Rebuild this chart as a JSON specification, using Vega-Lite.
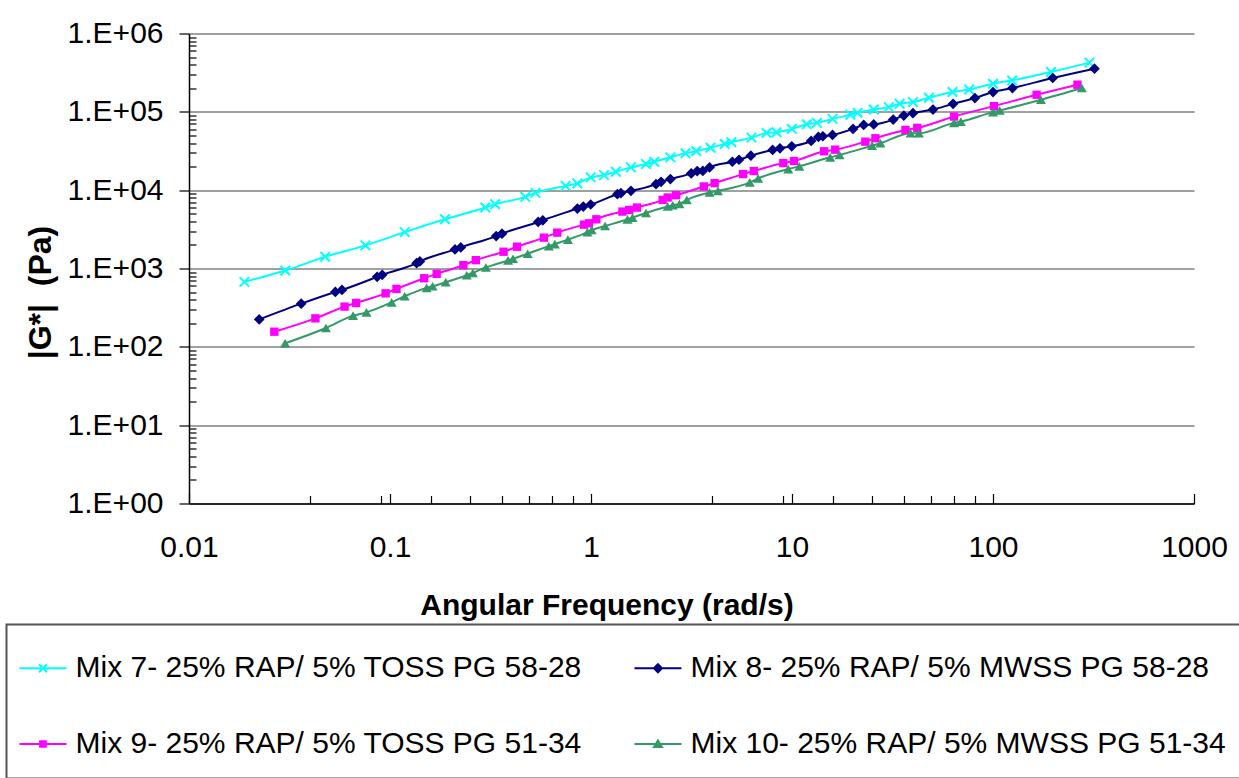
{
  "$schema": "https://vega.github.io/schema/vega-lite/v6.json",
  "autosize": {"type": "none"},
  "width": 1005,
  "height": 470,
  "padding": {"left": 189, "top": 33.5, "right": 45, "bottom": 274.5},
  "background": "white",
  "config": {
    "view": {"stroke": null},
    "font": "Liberation Sans",
    "legend": {"strokeWidth": 2}
  },
  "data": {"values": [
    {"series":"Mix 7- 25% RAP/ 5% TOSS PG 58-28","x":0.01885,"y":675},
    {"series":"Mix 7- 25% RAP/ 5% TOSS PG 58-28","x":0.0301,"y":943},
    {"series":"Mix 7- 25% RAP/ 5% TOSS PG 58-28","x":0.0476,"y":1413},
    {"series":"Mix 7- 25% RAP/ 5% TOSS PG 58-28","x":0.0755,"y":1972},
    {"series":"Mix 7- 25% RAP/ 5% TOSS PG 58-28","x":0.1183,"y":2917},
    {"series":"Mix 7- 25% RAP/ 5% TOSS PG 58-28","x":0.1877,"y":4246},
    {"series":"Mix 7- 25% RAP/ 5% TOSS PG 58-28","x":0.2978,"y":6000},
    {"series":"Mix 7- 25% RAP/ 5% TOSS PG 58-28","x":0.3335,"y":6620},
    {"series":"Mix 7- 25% RAP/ 5% TOSS PG 58-28","x":0.4712,"y":8200},
    {"series":"Mix 7- 25% RAP/ 5% TOSS PG 58-28","x":0.5294,"y":9230},
    {"series":"Mix 7- 25% RAP/ 5% TOSS PG 58-28","x":0.7477,"y":11350},
    {"series":"Mix 7- 25% RAP/ 5% TOSS PG 58-28","x":0.8558,"y":12190},
    {"series":"Mix 7- 25% RAP/ 5% TOSS PG 58-28","x":0.9965,"y":14550},
    {"series":"Mix 7- 25% RAP/ 5% TOSS PG 58-28","x":1.161,"y":15560},
    {"series":"Mix 7- 25% RAP/ 5% TOSS PG 58-28","x":1.329,"y":17170},
    {"series":"Mix 7- 25% RAP/ 5% TOSS PG 58-28","x":1.58,"y":19540},
    {"series":"Mix 7- 25% RAP/ 5% TOSS PG 58-28","x":1.877,"y":21540},
    {"series":"Mix 7- 25% RAP/ 5% TOSS PG 58-28","x":2.065,"y":23060},
    {"series":"Mix 7- 25% RAP/ 5% TOSS PG 58-28","x":2.483,"y":26250},
    {"series":"Mix 7- 25% RAP/ 5% TOSS PG 58-28","x":2.951,"y":29560},
    {"series":"Mix 7- 25% RAP/ 5% TOSS PG 58-28","x":3.338,"y":31620},
    {"series":"Mix 7- 25% RAP/ 5% TOSS PG 58-28","x":3.936,"y":34850},
    {"series":"Mix 7- 25% RAP/ 5% TOSS PG 58-28","x":4.624,"y":38900},
    {"series":"Mix 7- 25% RAP/ 5% TOSS PG 58-28","x":4.994,"y":40900},
    {"series":"Mix 7- 25% RAP/ 5% TOSS PG 58-28","x":6.288,"y":46870},
    {"series":"Mix 7- 25% RAP/ 5% TOSS PG 58-28","x":7.47,"y":53800},
    {"series":"Mix 7- 25% RAP/ 5% TOSS PG 58-28","x":8.38,"y":54950},
    {"series":"Mix 7- 25% RAP/ 5% TOSS PG 58-28","x":9.97,"y":60530},
    {"series":"Mix 7- 25% RAP/ 5% TOSS PG 58-28","x":11.85,"y":69550},
    {"series":"Mix 7- 25% RAP/ 5% TOSS PG 58-28","x":13.29,"y":72270},
    {"series":"Mix 7- 25% RAP/ 5% TOSS PG 58-28","x":15.9,"y":81300},
    {"series":"Mix 7- 25% RAP/ 5% TOSS PG 58-28","x":19.5,"y":91600},
    {"series":"Mix 7- 25% RAP/ 5% TOSS PG 58-28","x":21.2,"y":97100},
    {"series":"Mix 7- 25% RAP/ 5% TOSS PG 58-28","x":25.5,"y":107000},
    {"series":"Mix 7- 25% RAP/ 5% TOSS PG 58-28","x":30.3,"y":114800},
    {"series":"Mix 7- 25% RAP/ 5% TOSS PG 58-28","x":34.3,"y":126700},
    {"series":"Mix 7- 25% RAP/ 5% TOSS PG 58-28","x":39.96,"y":133100},
    {"series":"Mix 7- 25% RAP/ 5% TOSS PG 58-28","x":48.0,"y":151200},
    {"series":"Mix 7- 25% RAP/ 5% TOSS PG 58-28","x":62.9,"y":179000},
    {"series":"Mix 7- 25% RAP/ 5% TOSS PG 58-28","x":76.1,"y":193200},
    {"series":"Mix 7- 25% RAP/ 5% TOSS PG 58-28","x":100,"y":228600},
    {"series":"Mix 7- 25% RAP/ 5% TOSS PG 58-28","x":124.4,"y":251800},
    {"series":"Mix 7- 25% RAP/ 5% TOSS PG 58-28","x":194.2,"y":322800},
    {"series":"Mix 7- 25% RAP/ 5% TOSS PG 58-28","x":301.9,"y":424800},
    {"series":"Mix 8- 25% RAP/ 5% MWSS PG 58-28","x":0.02235,"y":224},
    {"series":"Mix 8- 25% RAP/ 5% MWSS PG 58-28","x":0.03615,"y":356},
    {"series":"Mix 8- 25% RAP/ 5% MWSS PG 58-28","x":0.05346,"y":502},
    {"series":"Mix 8- 25% RAP/ 5% MWSS PG 58-28","x":0.05768,"y":533},
    {"series":"Mix 8- 25% RAP/ 5% MWSS PG 58-28","x":0.08631,"y":783},
    {"series":"Mix 8- 25% RAP/ 5% MWSS PG 58-28","x":0.09146,"y":830},
    {"series":"Mix 8- 25% RAP/ 5% MWSS PG 58-28","x":0.1356,"y":1169},
    {"series":"Mix 8- 25% RAP/ 5% MWSS PG 58-28","x":0.1408,"y":1230},
    {"series":"Mix 8- 25% RAP/ 5% MWSS PG 58-28","x":0.2106,"y":1752},
    {"series":"Mix 8- 25% RAP/ 5% MWSS PG 58-28","x":0.225,"y":1860},
    {"series":"Mix 8- 25% RAP/ 5% MWSS PG 58-28","x":0.3376,"y":2595},
    {"series":"Mix 8- 25% RAP/ 5% MWSS PG 58-28","x":0.3607,"y":2786},
    {"series":"Mix 8- 25% RAP/ 5% MWSS PG 58-28","x":0.546,"y":3925},
    {"series":"Mix 8- 25% RAP/ 5% MWSS PG 58-28","x":0.5757,"y":4125},
    {"series":"Mix 8- 25% RAP/ 5% MWSS PG 58-28","x":0.8558,"y":5825},
    {"series":"Mix 8- 25% RAP/ 5% MWSS PG 58-28","x":0.916,"y":6180},
    {"series":"Mix 8- 25% RAP/ 5% MWSS PG 58-28","x":0.9965,"y":6560},
    {"series":"Mix 8- 25% RAP/ 5% MWSS PG 58-28","x":1.353,"y":8890},
    {"series":"Mix 8- 25% RAP/ 5% MWSS PG 58-28","x":1.408,"y":9160},
    {"series":"Mix 8- 25% RAP/ 5% MWSS PG 58-28","x":1.58,"y":9800},
    {"series":"Mix 8- 25% RAP/ 5% MWSS PG 58-28","x":2.106,"y":11940},
    {"series":"Mix 8- 25% RAP/ 5% MWSS PG 58-28","x":2.231,"y":12770},
    {"series":"Mix 8- 25% RAP/ 5% MWSS PG 58-28","x":2.483,"y":13840},
    {"series":"Mix 8- 25% RAP/ 5% MWSS PG 58-28","x":3.151,"y":16370},
    {"series":"Mix 8- 25% RAP/ 5% MWSS PG 58-28","x":3.377,"y":17530},
    {"series":"Mix 8- 25% RAP/ 5% MWSS PG 58-28","x":3.6,"y":17600},
    {"series":"Mix 8- 25% RAP/ 5% MWSS PG 58-28","x":3.89,"y":19540},
    {"series":"Mix 8- 25% RAP/ 5% MWSS PG 58-28","x":5.05,"y":23060},
    {"series":"Mix 8- 25% RAP/ 5% MWSS PG 58-28","x":5.45,"y":24450},
    {"series":"Mix 8- 25% RAP/ 5% MWSS PG 58-28","x":6.24,"y":27540},
    {"series":"Mix 8- 25% RAP/ 5% MWSS PG 58-28","x":8.01,"y":32580},
    {"series":"Mix 8- 25% RAP/ 5% MWSS PG 58-28","x":8.71,"y":34260},
    {"series":"Mix 8- 25% RAP/ 5% MWSS PG 58-28","x":9.97,"y":36300},
    {"series":"Mix 8- 25% RAP/ 5% MWSS PG 58-28","x":12.45,"y":42460},
    {"series":"Mix 8- 25% RAP/ 5% MWSS PG 58-28","x":13.53,"y":47780},
    {"series":"Mix 8- 25% RAP/ 5% MWSS PG 58-28","x":14.24,"y":48800},
    {"series":"Mix 8- 25% RAP/ 5% MWSS PG 58-28","x":15.9,"y":50700},
    {"series":"Mix 8- 25% RAP/ 5% MWSS PG 58-28","x":20.12,"y":60530},
    {"series":"Mix 8- 25% RAP/ 5% MWSS PG 58-28","x":22.73,"y":68100},
    {"series":"Mix 8- 25% RAP/ 5% MWSS PG 58-28","x":25.5,"y":69000},
    {"series":"Mix 8- 25% RAP/ 5% MWSS PG 58-28","x":31.88,"y":79650},
    {"series":"Mix 8- 25% RAP/ 5% MWSS PG 58-28","x":36.0,"y":89700},
    {"series":"Mix 8- 25% RAP/ 5% MWSS PG 58-28","x":39.96,"y":96200},
    {"series":"Mix 8- 25% RAP/ 5% MWSS PG 58-28","x":50.3,"y":107000},
    {"series":"Mix 8- 25% RAP/ 5% MWSS PG 58-28","x":63.3,"y":126700},
    {"series":"Mix 8- 25% RAP/ 5% MWSS PG 58-28","x":81.3,"y":149900},
    {"series":"Mix 8- 25% RAP/ 5% MWSS PG 58-28","x":100,"y":179000},
    {"series":"Mix 8- 25% RAP/ 5% MWSS PG 58-28","x":125,"y":201300},
    {"series":"Mix 8- 25% RAP/ 5% MWSS PG 58-28","x":198.2,"y":270400},
    {"series":"Mix 8- 25% RAP/ 5% MWSS PG 58-28","x":319.8,"y":355700},
    {"series":"Mix 9- 25% RAP/ 5% TOSS PG 51-34","x":0.02657,"y":156},
    {"series":"Mix 9- 25% RAP/ 5% TOSS PG 51-34","x":0.04254,"y":231},
    {"series":"Mix 9- 25% RAP/ 5% TOSS PG 51-34","x":0.05943,"y":326},
    {"series":"Mix 9- 25% RAP/ 5% TOSS PG 51-34","x":0.06777,"y":363},
    {"series":"Mix 9- 25% RAP/ 5% TOSS PG 51-34","x":0.09507,"y":482},
    {"series":"Mix 9- 25% RAP/ 5% TOSS PG 51-34","x":0.1077,"y":549},
    {"series":"Mix 9- 25% RAP/ 5% TOSS PG 51-34","x":0.1479,"y":751},
    {"series":"Mix 9- 25% RAP/ 5% TOSS PG 51-34","x":0.1707,"y":855},
    {"series":"Mix 9- 25% RAP/ 5% TOSS PG 51-34","x":0.2318,"y":1102},
    {"series":"Mix 9- 25% RAP/ 5% TOSS PG 51-34","x":0.2672,"y":1277},
    {"series":"Mix 9- 25% RAP/ 5% TOSS PG 51-34","x":0.3672,"y":1637},
    {"series":"Mix 9- 25% RAP/ 5% TOSS PG 51-34","x":0.4284,"y":1897},
    {"series":"Mix 9- 25% RAP/ 5% TOSS PG 51-34","x":0.5824,"y":2476},
    {"series":"Mix 9- 25% RAP/ 5% TOSS PG 51-34","x":0.6793,"y":2870},
    {"series":"Mix 9- 25% RAP/ 5% TOSS PG 51-34","x":0.9231,"y":3631},
    {"series":"Mix 9- 25% RAP/ 5% TOSS PG 51-34","x":0.9772,"y":3776},
    {"series":"Mix 9- 25% RAP/ 5% TOSS PG 51-34","x":1.063,"y":4246},
    {"series":"Mix 9- 25% RAP/ 5% TOSS PG 51-34","x":1.434,"y":5330},
    {"series":"Mix 9- 25% RAP/ 5% TOSS PG 51-34","x":1.549,"y":5590},
    {"series":"Mix 9- 25% RAP/ 5% TOSS PG 51-34","x":1.692,"y":6000},
    {"series":"Mix 9- 25% RAP/ 5% TOSS PG 51-34","x":2.273,"y":7510},
    {"series":"Mix 9- 25% RAP/ 5% TOSS PG 51-34","x":2.407,"y":8060},
    {"series":"Mix 9- 25% RAP/ 5% TOSS PG 51-34","x":2.652,"y":8630},
    {"series":"Mix 9- 25% RAP/ 5% TOSS PG 51-34","x":3.643,"y":11150},
    {"series":"Mix 9- 25% RAP/ 5% TOSS PG 51-34","x":4.121,"y":12300},
    {"series":"Mix 9- 25% RAP/ 5% TOSS PG 51-34","x":5.708,"y":16040},
    {"series":"Mix 9- 25% RAP/ 5% TOSS PG 51-34","x":6.457,"y":17530},
    {"series":"Mix 9- 25% RAP/ 5% TOSS PG 51-34","x":9.05,"y":22200},
    {"series":"Mix 9- 25% RAP/ 5% TOSS PG 51-34","x":10.23,"y":23550},
    {"series":"Mix 9- 25% RAP/ 5% TOSS PG 51-34","x":14.45,"y":31340},
    {"series":"Mix 9- 25% RAP/ 5% TOSS PG 51-34","x":16.41,"y":32870},
    {"series":"Mix 9- 25% RAP/ 5% TOSS PG 51-34","x":23.17,"y":41600},
    {"series":"Mix 9- 25% RAP/ 5% TOSS PG 51-34","x":26.0,"y":46000},
    {"series":"Mix 9- 25% RAP/ 5% TOSS PG 51-34","x":36.7,"y":58750},
    {"series":"Mix 9- 25% RAP/ 5% TOSS PG 51-34","x":42.0,"y":62370},
    {"series":"Mix 9- 25% RAP/ 5% TOSS PG 51-34","x":64.0,"y":87100},
    {"series":"Mix 9- 25% RAP/ 5% TOSS PG 51-34","x":101.2,"y":118300},
    {"series":"Mix 9- 25% RAP/ 5% TOSS PG 51-34","x":164.8,"y":165200},
    {"series":"Mix 9- 25% RAP/ 5% TOSS PG 51-34","x":263,"y":222000},
    {"series":"Mix 10- 25% RAP/ 5% MWSS PG 51-34","x":0.03008,"y":111},
    {"series":"Mix 10- 25% RAP/ 5% MWSS PG 51-34","x":0.048,"y":174},
    {"series":"Mix 10- 25% RAP/ 5% MWSS PG 51-34","x":0.06551,"y":250},
    {"series":"Mix 10- 25% RAP/ 5% MWSS PG 51-34","x":0.07632,"y":275},
    {"series":"Mix 10- 25% RAP/ 5% MWSS PG 51-34","x":0.1019,"y":370},
    {"series":"Mix 10- 25% RAP/ 5% MWSS PG 51-34","x":0.1183,"y":442},
    {"series":"Mix 10- 25% RAP/ 5% MWSS PG 51-34","x":0.1521,"y":566},
    {"series":"Mix 10- 25% RAP/ 5% MWSS PG 51-34","x":0.163,"y":593},
    {"series":"Mix 10- 25% RAP/ 5% MWSS PG 51-34","x":0.1893,"y":667},
    {"series":"Mix 10- 25% RAP/ 5% MWSS PG 51-34","x":0.241,"y":820},
    {"series":"Mix 10- 25% RAP/ 5% MWSS PG 51-34","x":0.2583,"y":881},
    {"series":"Mix 10- 25% RAP/ 5% MWSS PG 51-34","x":0.2999,"y":1030},
    {"series":"Mix 10- 25% RAP/ 5% MWSS PG 51-34","x":0.3866,"y":1267},
    {"series":"Mix 10- 25% RAP/ 5% MWSS PG 51-34","x":0.4093,"y":1331},
    {"series":"Mix 10- 25% RAP/ 5% MWSS PG 51-34","x":0.4843,"y":1543},
    {"series":"Mix 10- 25% RAP/ 5% MWSS PG 51-34","x":0.6167,"y":1932},
    {"series":"Mix 10- 25% RAP/ 5% MWSS PG 51-34","x":0.6608,"y":2050},
    {"series":"Mix 10- 25% RAP/ 5% MWSS PG 51-34","x":0.7673,"y":2333},
    {"series":"Mix 10- 25% RAP/ 5% MWSS PG 51-34","x":0.9596,"y":2917},
    {"series":"Mix 10- 25% RAP/ 5% MWSS PG 51-34","x":1.008,"y":3097},
    {"series":"Mix 10- 25% RAP/ 5% MWSS PG 51-34","x":1.175,"y":3484},
    {"series":"Mix 10- 25% RAP/ 5% MWSS PG 51-34","x":1.519,"y":4246},
    {"series":"Mix 10- 25% RAP/ 5% MWSS PG 51-34","x":1.609,"y":4467},
    {"series":"Mix 10- 25% RAP/ 5% MWSS PG 51-34","x":1.877,"y":5117},
    {"series":"Mix 10- 25% RAP/ 5% MWSS PG 51-34","x":2.407,"y":6180},
    {"series":"Mix 10- 25% RAP/ 5% MWSS PG 51-34","x":2.55,"y":6425},
    {"series":"Mix 10- 25% RAP/ 5% MWSS PG 51-34","x":2.754,"y":6670},
    {"series":"Mix 10- 25% RAP/ 5% MWSS PG 51-34","x":2.996,"y":7510},
    {"series":"Mix 10- 25% RAP/ 5% MWSS PG 51-34","x":3.89,"y":9350},
    {"series":"Mix 10- 25% RAP/ 5% MWSS PG 51-34","x":4.28,"y":9800},
    {"series":"Mix 10- 25% RAP/ 5% MWSS PG 51-34","x":6.166,"y":12550},
    {"series":"Mix 10- 25% RAP/ 5% MWSS PG 51-34","x":6.785,"y":14130},
    {"series":"Mix 10- 25% RAP/ 5% MWSS PG 51-34","x":9.58,"y":18590},
    {"series":"Mix 10- 25% RAP/ 5% MWSS PG 51-34","x":10.88,"y":20130},
    {"series":"Mix 10- 25% RAP/ 5% MWSS PG 51-34","x":15.49,"y":26250},
    {"series":"Mix 10- 25% RAP/ 5% MWSS PG 51-34","x":17.24,"y":28100},
    {"series":"Mix 10- 25% RAP/ 5% MWSS PG 51-34","x":25.03,"y":36980},
    {"series":"Mix 10- 25% RAP/ 5% MWSS PG 51-34","x":27.54,"y":39700},
    {"series":"Mix 10- 25% RAP/ 5% MWSS PG 51-34","x":38.9,"y":53300},
    {"series":"Mix 10- 25% RAP/ 5% MWSS PG 51-34","x":42.8,"y":53300},
    {"series":"Mix 10- 25% RAP/ 5% MWSS PG 51-34","x":64.0,"y":72270},
    {"series":"Mix 10- 25% RAP/ 5% MWSS PG 51-34","x":69.2,"y":75150},
    {"series":"Mix 10- 25% RAP/ 5% MWSS PG 51-34","x":100,"y":99100},
    {"series":"Mix 10- 25% RAP/ 5% MWSS PG 51-34","x":108,"y":104000},
    {"series":"Mix 10- 25% RAP/ 5% MWSS PG 51-34","x":173.2,"y":142500},
    {"series":"Mix 10- 25% RAP/ 5% MWSS PG 51-34","x":276.7,"y":201300}
  ]},
  "encoding": {
    "x": {
      "field": "x", "type": "quantitative",
      "scale": {"type": "log", "domain": [0.01, 1000], "nice": false},
      "axis": {
        "values": [0.01, 0.04, 0.09, 0.1, 0.16, 0.25, 0.36, 0.49, 0.64, 0.81, 1, 4, 9, 10, 16, 25, 36, 49, 64, 81, 100, 1000],
        "grid": false,
        "domainColor": "#000", "domainWidth": 1.5,
        "tickColor": "#000", "tickWidth": 1.2,
        "tickSize": {"condition": {"test": "abs(log(datum.value)/LN10-round(log(datum.value)/LN10))<0.001", "value": -10}, "value": -8},
        "labelExpr": "abs(log(datum.value)/LN10-round(log(datum.value)/LN10))<0.001 ? format(datum.value, '~g') : ''",
        "labelFont": "Liberation Sans", "labelFontSize": 30, "labelColor": "#000",
        "labelBaseline": "middle", "labelPadding": 54, "labelOverlap": false, "labelFlush": false,
        "title": "Angular Frequency (rad/s)",
        "titleFont": "Liberation Sans", "titleFontSize": 30, "titleFontWeight": "bold", "titleColor": "#000",
        "titleX": 417.5, "titleY": 102, "titleAlign": "center", "titleBaseline": "middle", "titleAnchor": null
      }
    },
    "y": {
      "field": "y", "type": "quantitative",
      "scale": {"type": "log", "domain": [1, 1000000], "nice": false},
      "axis": {
        "values": [1,2,3,4,5,6,7,8,9,10,20,30,40,50,60,70,80,90,100,200,300,400,500,600,700,800,900,1000,2000,3000,4000,5000,6000,7000,8000,9000,10000,20000,30000,40000,50000,60000,70000,80000,90000,100000,200000,300000,400000,500000,600000,700000,800000,900000,1000000],
        "grid": true, "gridColor": "#808080", "gridWidth": 1.5,
        "gridOpacity": {"condition": {"test": "abs(log(datum.value)/LN10-round(log(datum.value)/LN10))<0.001", "value": 1}, "value": 0},
        "domainColor": "#000", "domainWidth": 1.5,
        "tickColor": "#000", "tickWidth": 1.2,
        "tickSize": {"condition": {"test": "abs(log(datum.value)/LN10-round(log(datum.value)/LN10))<0.001", "value": 10}, "value": -7},
        "labelExpr": "abs(log(datum.value)/LN10-round(log(datum.value)/LN10))<0.001 ? '1.E+0' + round(log(datum.value)/LN10) : ''",
        "labelFont": "Liberation Sans", "labelFontSize": 30, "labelColor": "#000",
        "labelPadding": 16, "labelOverlap": false, "labelFlush": false,
        "title": "|G*| \u00a0(Pa)",
        "titleFont": "Liberation Sans", "titleFontSize": 32, "titleFontWeight": "bold", "titleColor": "#000",
        "titleX": -149, "titleY": 258.5, "titleAngle": -90, "titleAlign": "center", "titleBaseline": "middle", "titleAnchor": null
      }
    },
    "color": {
      "field": "series", "type": "nominal",
      "scale": {
        "domain": ["Mix 7- 25% RAP/ 5% TOSS PG 58-28", "Mix 8- 25% RAP/ 5% MWSS PG 58-28", "Mix 9- 25% RAP/ 5% TOSS PG 51-34", "Mix 10- 25% RAP/ 5% MWSS PG 51-34"],
        "range": ["#00FFFF", "#000080", "#FF00FF", "#339966"]
      },
      "legend": {
        "orient": "none", "legendX": -182.5, "legendY": 591,
        "direction": "horizontal", "columns": 2,
        "title": null,
        "padding": 19, "strokeColor": "#555555", "fillColor": "white",
        "symbolSize": 2209, "symbolStrokeWidth": 2, "symbolOpacity": 1,
        "labelFont": "Liberation Sans", "labelFontSize": 30, "labelColor": "#000", "labelOffset": 1, "labelLimit": 0,
        "rowPadding": 36, "columnPadding": 47
      }
    }
  },
  "layer": [
    {
      "mark": {"type": "point", "filled": false, "opacity": 0, "strokeWidth": 2},
      "encoding": {
        "shape": {
          "field": "series", "type": "nominal",
          "scale": {
            "domain": ["Mix 7- 25% RAP/ 5% TOSS PG 58-28", "Mix 8- 25% RAP/ 5% MWSS PG 58-28", "Mix 9- 25% RAP/ 5% TOSS PG 51-34", "Mix 10- 25% RAP/ 5% MWSS PG 51-34"],
            "range": [
              "M-1.3,0H0.7M-0.47,-0.17L-0.13,0.17M-0.47,0.17L-0.13,-0.17",
              "M-1.3,0H0.7M-0.3,-0.17L-0.13,0L-0.3,0.17L-0.47,0Z",
              "M-1.3,0H0.7M-0.42,-0.12H-0.18V0.12H-0.42Z",
              "M-1.3,0H0.7M-0.3,-0.15L-0.13,0.13H-0.47Z"
            ]
          },
          "legend": {
            "orient": "none", "legendX": -182.5, "legendY": 591,
            "direction": "horizontal", "columns": 2,
            "title": null,
            "padding": 19, "strokeColor": "#555555", "fillColor": "white",
            "symbolSize": 2209, "symbolStrokeWidth": 2, "symbolOpacity": 1,
            "labelFont": "Liberation Sans", "labelFontSize": 30, "labelColor": "#000", "labelOffset": 1, "labelLimit": 0,
            "rowPadding": 36, "columnPadding": 47
          }
        }
      }
    },
    {"mark": {"type": "line", "interpolate": "monotone", "strokeWidth": 2}},
    {
      "transform": [{"filter": "indexof(datum.series, 'Mix 7-') === 0"}],
      "mark": {"type": "point", "shape": "M-1,-1L1,1M-1,1L1,-1", "filled": false, "size": 90, "strokeWidth": 2, "opacity": 1}
    },
    {
      "transform": [{"filter": "indexof(datum.series, 'Mix 8-') === 0"}],
      "mark": {"type": "point", "shape": "diamond", "filled": true, "size": 115, "opacity": 1}
    },
    {
      "transform": [{"filter": "indexof(datum.series, 'Mix 9-') === 0"}],
      "mark": {"type": "point", "shape": "square", "filled": true, "size": 70, "opacity": 1}
    },
    {
      "transform": [{"filter": "indexof(datum.series, 'Mix 10-') === 0"}],
      "mark": {"type": "point", "shape": "triangle-up", "filled": true, "size": 100, "opacity": 1}
    }
  ]
}
